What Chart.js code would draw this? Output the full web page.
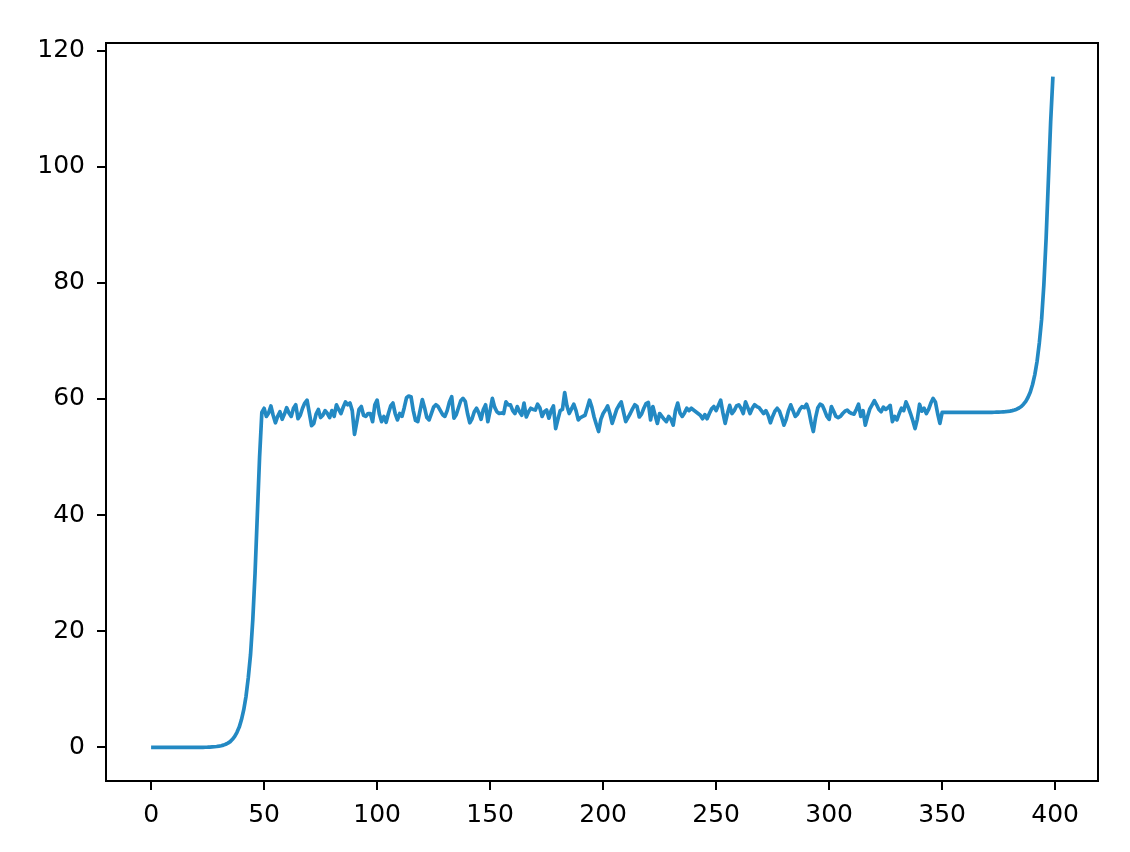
<!DOCTYPE html>
<html>
<head>
<meta charset="utf-8">
<script src="https://cdn.jsdelivr.net/npm/chart.js@4.4.0/dist/chart.umd.min.js"></script>
<style>
  html, body { margin: 0; padding: 0; background: #fff; }
  #wrap { width: 1130px; height: 852px; }
</style>
</head>
<body>
<div id="wrap"><canvas id="chart" width="1130" height="852"></canvas></div>
<script>
// x = 0..49, the first climb
const rampUp = [
  0, 0, 0, 0, 0, 0, 0, 0, 0, 0,
  0, 0, 0, 0, 0, 0, 0, 0, 0, 0,
  0, 0, 0, 0.02, 0.03, 0.04, 0.06, 0.09, 0.12, 0.16,
  0.22, 0.3, 0.4, 0.55, 0.75, 1.0, 1.4, 1.9, 2.6, 3.5,
  4.8, 6.5, 8.8, 12, 16, 22, 30, 40, 50, 57.7
];

// x = 50..349, the noisy plateau
const plateau = [
  58.4, 57.0, 57.6, 58.8, 57.2, 55.9, 57.0, 57.8, 56.5, 57.4,
  58.5, 57.6, 57.0, 58.4, 59.0, 56.6, 57.2, 58.4, 59.3, 59.8,
  57.6, 55.4, 55.8, 57.4, 58.2, 56.8, 57.2, 58.0, 57.5, 56.8,
  58.0, 57.0, 59.0, 58.2, 57.5, 58.6, 59.5, 59.0, 59.3, 58.0,
  53.9, 56.0, 58.2, 58.7, 57.2, 57.0, 57.5, 57.5, 56.1, 59.0,
  59.8, 57.4, 56.1, 57.0, 56.0, 57.5, 58.8, 59.3, 57.5, 56.4,
  57.5, 57.0, 58.5, 60.2, 60.5, 60.4, 58.0, 56.3, 56.1, 58.0,
  59.9, 58.5, 56.8, 56.4, 57.5, 58.6, 59.0, 58.7, 58.0, 57.3,
  57.0, 58.0, 59.5, 60.4, 56.7, 57.3, 58.5, 59.7, 60.1, 59.6,
  57.5, 55.9, 56.6, 57.8, 58.4, 57.6, 56.5, 58.2, 59.0, 56.1,
  58.0, 60.1, 58.6, 57.8, 57.5, 57.6, 57.5, 59.5, 59.0, 59.0,
  58.0, 57.5, 58.7, 57.8, 57.2, 59.3, 56.9, 57.8, 58.4, 58.2,
  58.1, 59.1, 58.5, 57.0, 57.8, 58.1, 56.7, 58.0, 58.8, 54.9,
  56.5, 58.0, 58.2, 61.1, 58.8, 57.5, 58.3, 59.1, 58.0, 56.4,
  56.8, 57.0, 57.2, 58.5, 59.8, 58.6, 56.9, 55.6, 54.4, 56.5,
  57.5, 58.1, 58.8, 57.5, 55.8, 57.0, 58.2, 58.9, 59.5, 57.8,
  56.1, 56.8, 57.5, 58.3, 59.0, 58.7, 56.9, 57.4, 58.4, 59.2,
  59.4, 56.4, 58.7, 57.2, 55.8, 57.5, 57.0, 56.5, 56.1, 57.0,
  56.5, 55.5, 58.0, 59.3, 57.6, 57.0, 57.6, 58.4, 58.0, 58.4,
  58.1, 57.8, 57.5, 57.2, 56.6, 57.3, 56.6, 57.5, 58.3, 58.7,
  58.0, 58.9, 59.8, 57.6, 55.8, 57.5, 58.9, 57.5, 58.0, 58.8,
  59.0, 58.4, 57.5, 59.5, 58.5, 57.5, 58.4, 59.0, 58.7, 58.5,
  58.0, 57.5, 58.0, 57.2, 55.9, 57.0, 57.9, 58.4, 57.9, 56.8,
  55.5, 56.5, 58.0, 59.0, 58.0, 57.0, 57.4, 58.2, 58.7, 58.5,
  59.1, 58.0, 56.0, 54.4, 56.8, 58.5, 59.1, 58.9, 58.0, 57.0,
  56.5, 58.7, 57.9, 57.0, 56.8, 57.0, 57.5, 57.9, 58.1, 57.7,
  57.5, 57.4, 58.2, 59.1, 57.0, 58.0, 55.5, 57.0, 58.3, 59.0,
  59.7, 59.0, 58.2, 57.8, 58.6, 58.2, 58.5, 58.9, 56.1, 57.0,
  56.4, 57.5, 58.4, 58.0, 59.5, 58.6, 57.5, 56.3, 54.9, 56.5,
  59.1, 57.9, 58.4, 57.5, 58.2, 59.3, 60.1, 59.5, 57.5, 55.8
];

// x = 350..399, flat then the last climb
const rampEnd = [
  57.7, 57.7, 57.7, 57.7, 57.7, 57.7, 57.7, 57.7, 57.7, 57.7,
  57.7, 57.7, 57.7, 57.7, 57.7, 57.7, 57.7, 57.7, 57.7, 57.7,
  57.7, 57.7, 57.7, 57.72, 57.73, 57.74, 57.76, 57.79, 57.82, 57.86,
  57.92, 58.0, 58.1, 58.25, 58.45, 58.7, 59.1, 59.6, 60.3, 61.2,
  62.5, 64.2, 66.5, 69.7, 73.7, 79.7, 87.7, 97.7, 107.7, 115.5
];

const xTicks = [0, 50, 100, 150, 200, 250, 300, 350, 400];
const yTicks = [0, 20, 40, 60, 80, 100, 120];

const series = rampUp.concat(plateau, rampEnd);
const points = series.map((v, i) => ({ x: i, y: v }));

// box around the plot area (all four spines)
const frame = {
  id: 'frame',
  afterDraw(chart) {
    const a = chart.chartArea;
    const c = chart.ctx;
    c.save();
    c.strokeStyle = '#000';
    c.lineWidth = 2;
    c.strokeRect(a.left, a.top, a.right - a.left, a.bottom - a.top);
    c.restore();
  }
};

const tickFont = { family: 'DejaVu Sans', size: 25 };

new Chart(document.getElementById('chart'), {
  type: 'line',
  data: {
    datasets: [{
      data: points,
      borderColor: '#2389c3',
      borderWidth: 3.7,
      borderJoinStyle: 'round',
      borderCapStyle: 'butt',
      pointRadius: 0,
      tension: 0,
      fill: false
    }]
  },
  options: {
    responsive: false,
    animation: false,
    devicePixelRatio: 1,
    layout: { padding: { top: 43, right: 32, left: 0, bottom: 0 } },
    plugins: {
      legend: { display: false },
      tooltip: { enabled: false }
    },
    scales: {
      x: {
        type: 'linear',
        min: -19.95,
        max: 418.95,
        afterBuildTicks: s => { s.ticks = xTicks.map(v => ({ value: v })); },
        afterFit: s => { s.height = 71; },
        grid: { drawOnChartArea: false, drawTicks: true, tickLength: 9, lineWidth: 2, color: '#000' },
        border: { display: false },
        ticks: { color: '#000', font: tickFont, padding: 10, maxRotation: 0, autoSkip: false }
      },
      y: {
        type: 'linear',
        min: -5.78,
        max: 121.3,
        afterBuildTicks: s => { s.ticks = yTicks.map(v => ({ value: v })); },
        afterFit: s => { s.width = 106; },
        grid: { drawOnChartArea: false, drawTicks: true, tickLength: 9, lineWidth: 2, color: '#000' },
        border: { display: false },
        ticks: { color: '#000', font: tickFont, padding: 12, autoSkip: false }
      }
    }
  },
  plugins: [frame]
});
</script>
</body>
</html>
